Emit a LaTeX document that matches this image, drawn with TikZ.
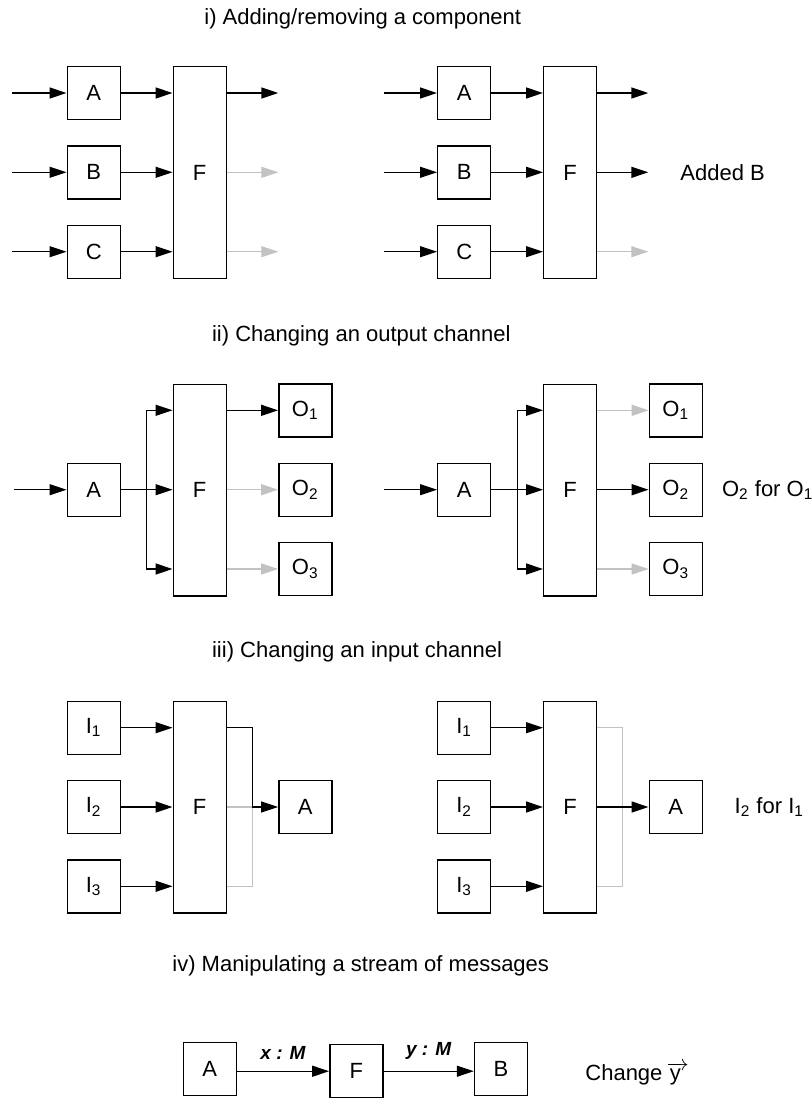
\documentclass[tikz,border=0pt]{standalone}
\usepackage{fontspec}
\setmainfont{Liberation Sans}
\usetikzlibrary{arrows.meta,calc,positioning}
\definecolor{GreyClr}{rgb}{0.76,0.76,0.76}

\tikzset{
  box/.style={draw,line width=0.7pt,minimum width=26.5pt,minimum height=26.5pt,inner sep=0pt,font=\fontsize{11}{13}\selectfont},
  fbox/.style={box,minimum height=105.8pt},
  flow/.style={line width=0.7pt,-{Triangle[length=8.5pt,width=5.5pt]}},
  gflow/.style={flow,color=GreyClr},
  wire/.style={line width=0.7pt},
  title/.style={anchor=base west,inner sep=0pt,font=\fontsize{11}{13}\selectfont},
  lbl/.style={font=\fontsize{9.5}{11}\selectfont\bfseries\itshape}
}

\begin{document}
\begin{tikzpicture}[x=0.5pt,y=-0.5pt]
\useasboundingbox (0,0) rectangle (811,1098);

% i) adding/removing a component
\node[title] (ti) at (204,24) {i) Adding/removing a component};

\node[box] (A1) at (93.7,93) {A};
\node[box] (B1) at (93.7,172.3) {B};
\node[box] (C1) at (93.7,251.7) {C};
\node[fbox] (F1) at (199.7,172.5) {F};
\coordinate (a1) at (12,93);
\coordinate (b1) at (12,172.3);
\coordinate (c1) at (12,251.7);
\coordinate (x1) at (278.3,93);
\coordinate (y1) at (278.3,172.3);
\coordinate (z1) at (278.3,251.7);
\draw[flow] (a1) -- (A1);
\draw[flow] (b1) -- (B1);
\draw[flow] (c1) -- (C1);
\draw[flow] (A1) -- (F1.west |- A1);
\draw[flow] (B1) -- (F1.west |- B1);
\draw[flow] (C1) -- (F1.west |- C1);
\draw[flow] (F1.east |- x1) -- (x1);
\draw[gflow] (F1.east |- y1) -- (y1);
\draw[gflow] (F1.east |- z1) -- (z1);

\node[box] (A2) at (464.2,93) {A};
\node[box] (B2) at (464.2,172.3) {B};
\node[box] (C2) at (464.2,251.7) {C};
\node[fbox] (F2) at (570.2,172.5) {F};
\coordinate (a2) at (384.3,93);
\coordinate (b2) at (384.3,172.3);
\coordinate (c2) at (384.3,251.7);
\coordinate (x2) at (648.3,93);
\coordinate (y2) at (648.3,172.3);
\coordinate (z2) at (648.3,251.7);
\draw[flow] (a2) -- (A2);
\draw[flow] (b2) -- (B2);
\draw[flow] (c2) -- (C2);
\draw[flow] (A2) -- (F2.west |- A2);
\draw[flow] (B2) -- (F2.west |- B2);
\draw[flow] (C2) -- (F2.west |- C2);
\draw[flow] (F2.east |- x2) -- (x2);
\draw[flow] (F2.east |- y2) -- (y2);
\draw[gflow] (F2.east |- z2) -- (z2);
\node[anchor=west,inner sep=0pt,font=\fontsize{11}{13}\selectfont] (n2) at (680,172.3) {Added B};

% ii) changing an output channel
\node[title] (tii) at (211.7,341) {ii) Changing an output channel};

\node[box] (A3) at (93.7,489.7) {A};
\node[fbox] (F3) at (199.7,490) {F};
\node[box] (Oa3) at (305.3,410.3) {O\textsubscript{1}};
\node[box] (Ob3) at (305.3,489.7) {O\textsubscript{2}};
\node[box] (Oc3) at (305.3,569) {O\textsubscript{3}};
\coordinate (a3) at (14,489.7);
\coordinate (s3) at ($(A3.east)!0.5!(F3.west |- A3)$);
\draw[flow] (a3) -- (A3);
\draw[flow] (A3) -- (F3.west |- A3);
\draw[flow] (s3) |- (F3.west |- Oa3);
\draw[flow] (s3) |- (F3.west |- Oc3);
\draw[flow] (F3.east |- Oa3) -- (Oa3);
\draw[gflow] (F3.east |- Ob3) -- (Ob3);
\draw[gflow] (F3.east |- Oc3) -- (Oc3);

\node[box] (A4) at (464.2,489.7) {A};
\node[fbox] (F4) at (570.2,490) {F};
\node[box] (Oa4) at (675.8,410.3) {O\textsubscript{1}};
\node[box] (Ob4) at (675.8,489.7) {O\textsubscript{2}};
\node[box] (Oc4) at (675.8,569) {O\textsubscript{3}};
\coordinate (a4) at (384.3,489.7);
\coordinate (s4) at ($(A4.east)!0.5!(F4.west |- A4)$);
\draw[flow] (a4) -- (A4);
\draw[flow] (A4) -- (F4.west |- A4);
\draw[flow] (s4) |- (F4.west |- Oa4);
\draw[flow] (s4) |- (F4.west |- Oc4);
\draw[gflow] (F4.east |- Oa4) -- (Oa4);
\draw[flow] (F4.east |- Ob4) -- (Ob4);
\draw[gflow] (F4.east |- Oc4) -- (Oc4);
\node[anchor=west,inner sep=0pt,font=\fontsize{11}{13}\selectfont] (n4) at (721.7,489.7) {O\textsubscript{2} for O\textsubscript{1}};

% iii) changing an input channel
\node[title] (tiii) at (211.7,657) {iii) Changing an input channel};

\node[box] (Ia5) at (93.7,727.7) {I\textsubscript{1}};
\node[box] (Ib5) at (93.7,807) {I\textsubscript{2}};
\node[box] (Ic5) at (93.7,886.3) {I\textsubscript{3}};
\node[fbox] (F5) at (199.7,807) {F};
\node[box] (A5) at (305.3,807) {A};
\coordinate (k5) at (252.3,807);
\draw[flow] (Ia5) -- (F5.west |- Ia5);
\draw[flow] (Ib5) -- (F5.west |- Ib5);
\draw[flow] (Ic5) -- (F5.west |- Ic5);
\draw[wire,GreyClr] (F5.east |- Ib5) -- (k5);
\draw[wire,GreyClr] (F5.east |- Ic5) -| (k5);
\draw[wire] (F5.east |- Ia5) -| (k5);
\draw[flow] (k5) -- (A5);

\node[box] (Ia6) at (464.2,727.7) {I\textsubscript{1}};
\node[box] (Ib6) at (464.2,807) {I\textsubscript{2}};
\node[box] (Ic6) at (464.2,886.3) {I\textsubscript{3}};
\node[fbox] (F6) at (570.2,807) {F};
\node[box] (A6) at (675.7,807) {A};
\coordinate (k6) at (622.7,807);
\draw[flow] (Ia6) -- (F6.west |- Ia6);
\draw[flow] (Ib6) -- (F6.west |- Ib6);
\draw[flow] (Ic6) -- (F6.west |- Ic6);
\draw[wire,GreyClr] (F6.east |- Ia6) -| (k6) |- (F6.east |- Ic6);
\draw[flow] (F6) -- (A6);
\node[anchor=west,inner sep=0pt,font=\fontsize{11}{13}\selectfont] (n6) at (734.3,807) {I\textsubscript{2} for I\textsubscript{1}};

% iv) manipulating a stream of messages
\node[title] (tiv) at (172,971) {iv) Manipulating a stream of messages};

\node[box] (A7) at (209.7,1069) {A};
\node[box] (F7) at (356.3,1071.2) {F};
\node[box] (B7) at (501,1069) {B};
\draw[flow] (A7.east |- F7) -- node[lbl,above=2pt] (lx) {x : M} (F7);
\draw[flow] (F7) -- node[lbl,above=2pt] (ly) {y : M} (B7.west |- F7);
\node[anchor=west,inner sep=0pt,font=\fontsize{11}{13}\selectfont] (n7) at (585,1074) {Change\,$\overrightarrow{\mbox{\,y\hspace{4pt}}}$};

\end{tikzpicture}
\end{document}
